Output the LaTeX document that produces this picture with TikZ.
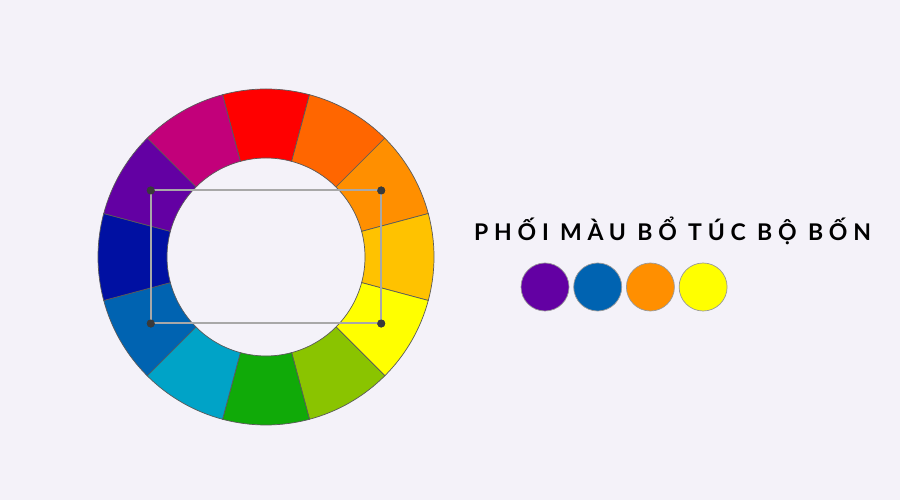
\documentclass[tikz,border=0pt]{standalone}
\usepackage{fontspec}
\newfontfamily\titlefont[LetterSpace=25]{Lato Bold}
\usetikzlibrary{positioning}

\definecolor{bgcol}{HTML}{F4F2F9}
\definecolor{segline}{HTML}{5A5A5A}
\definecolor{rectline}{HTML}{A8A8A8}
\definecolor{dotcol}{HTML}{3A3A3A}
\definecolor{cRed}{HTML}{FF0000}
\definecolor{cRedOrange}{HTML}{FF6600}
\definecolor{cOrange}{HTML}{FF8F00}
\definecolor{cYellowOrange}{HTML}{FFC200}
\definecolor{cYellow}{HTML}{FFFF00}
\definecolor{cYellowGreen}{HTML}{8AC400}
\definecolor{cGreen}{HTML}{10AA08}
\definecolor{cBlueGreen}{HTML}{00A3C7}
\definecolor{cBlue}{HTML}{0063B1}
\definecolor{cBlueViolet}{HTML}{0010A2}
\definecolor{cViolet}{HTML}{6300A3}
\definecolor{cRedViolet}{HTML}{C2007A}

\begin{document}
\begin{tikzpicture}[x=1pt, y=1pt] %Bo tuc bo bon
    \tikzstyle{corner} = [circle, fill=dotcol, inner sep=0pt, minimum size=8pt]
    \tikzstyle{swatch} = [circle, draw=gray!80, line width=0.7pt, inner sep=0pt, minimum size=48pt]
    \tikzstyle{quad} = [draw=rectline, line width=2pt]
    \fill[bgcol] (0,0) rectangle (900,500);
    \coordinate (C) at (266,243);
    \begin{scope}[shift={(C)}]
        \foreach \col/\angle in {cRed/90, cRedOrange/60, cOrange/30, cYellowOrange/0, cYellow/-30, cYellowGreen/-60, cGreen/-90, cBlueGreen/-120, cBlue/-150, cBlueViolet/180, cViolet/150, cRedViolet/120}
        {
            \filldraw[fill=\col, draw=segline, line width=0.7pt] (\angle-15:99pt) -- (\angle-15:168pt)
                arc[start angle=\angle-15, end angle=\angle+15, radius=168pt] -- (\angle+15:99pt)
                arc[start angle=\angle+15, end angle=\angle-15, radius=99pt] -- cycle;
        }
        \node[corner] (TL) at (150:133pt) {};
        \node[corner] (TR) at (30:133pt) {};
        \node[corner] (BR) at (-30:133pt) {};
        \node[corner] (BL) at (-150:133pt) {};
    \end{scope}
    \draw[quad] (TL.center) -- (TR.center) -- (BR.center) -- (BL.center) -- (TL.center);
    \node[corner] at (TL) {};
    \node[corner] at (TR) {};
    \node[corner] at (BR) {};
    \node[corner] at (BL) {};
    \node[anchor=base west, inner sep=0pt, font=\titlefont\fontsize{23}{27}\selectfont] (title) at (474,259) {PHỐI MÀU BỔ TÚC BỘ BỐN};
    \node[swatch, fill=cViolet] (violet) at (545,213) {};
    \node[swatch, fill=cBlue, right=4pt of violet] (blue) {};
    \node[swatch, fill=cOrange, right=4pt of blue] (orange) {};
    \node[swatch, fill=cYellow, right=4pt of orange] (yellow) {};
\end{tikzpicture}
\end{document}
